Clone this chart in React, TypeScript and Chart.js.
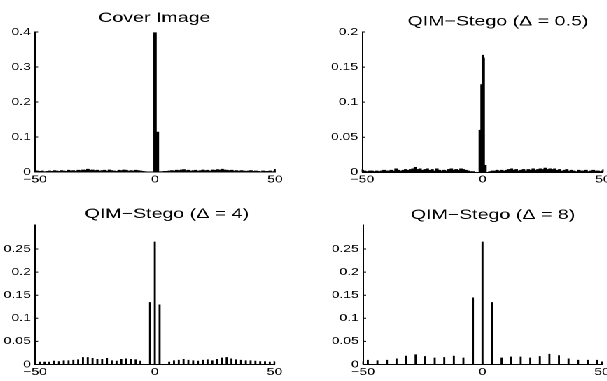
import React, { useEffect, useRef } from "react";
import { Chart, registerables } from "chart.js";

Chart.register(...registerables);

// ---------------- data ----------------
const X_TICKS = [-50, 0, 50];
const Y_TICKS_COVER = [0, 0.1, 0.2, 0.3, 0.4];
const Y_TICKS_STEGO05 = [0, 0.05, 0.1, 0.15, 0.2];
const Y_TICKS_STEGO = [0, 0.05, 0.1, 0.15, 0.2, 0.25];

const TITLES = ["Cover Image", "QIM\u2212Stego (\u0394 = 0.5)", "QIM\u2212Stego (\u0394 = 4)", "QIM\u2212Stego (\u0394 = 8)"];

// Cover image histogram, integer bins -50 .. 50
const COVER_VALUES = [
  0.004, 0.003, 0.002, 0.003, 0.001, 0.002, 0.003, 0.002, 0.004, 0.003,
  0.002, 0.004, 0.003, 0.002, 0.005, 0.003, 0.004, 0.002, 0.005, 0.004,
  0.006, 0.005, 0.008, 0.005, 0.006, 0.004, 0.005, 0.003, 0.004, 0.005,
  0.003, 0.006, 0.004, 0.003, 0.002, 0.005, 0.004, 0.006, 0.005, 0.003,
  0.004, 0.003, 0.005, 0.004, 0.003, 0.002, 0.001, 0.0, 0.0, 0.0,
  0.398,
  0.114, 0.001, 0.001, 0.002, 0.002, 0.003, 0.004, 0.003, 0.005, 0.004,
  0.006, 0.007, 0.004, 0.005, 0.003, 0.004, 0.005, 0.003, 0.004, 0.006,
  0.004, 0.005, 0.003, 0.006, 0.005, 0.007, 0.006, 0.008, 0.006, 0.005,
  0.004, 0.005, 0.003, 0.004, 0.002, 0.004, 0.003, 0.002, 0.003, 0.004,
  0.002, 0.003, 0.002, 0.001, 0.003, 0.002, 0.002, 0.003, 0.001, 0.003,
];

// QIM delta = 0.5: integer bins -50 .. -2, fine bins around 0, integer bins 2 .. 50
const STEGO05_LEFT = [
  0.003, 0.002, 0.001, 0.002, 0.002, 0.001, 0.002, 0.001, 0.002, 0.003,
  0.002, 0.002, 0.003, 0.002, 0.005, 0.003, 0.002, 0.003, 0.004, 0.003,
  0.004, 0.005, 0.007, 0.004, 0.005, 0.003, 0.004, 0.005, 0.003, 0.004,
  0.002, 0.005, 0.003, 0.002, 0.003, 0.002, 0.004, 0.005, 0.003, 0.004,
  0.003, 0.005, 0.004, 0.003, 0.002, 0.001, 0.001, 0.0, 0.0,
];
const STEGO05_CENTER_BINS = [-1, -0.5, 0, 0.5, 1];
const STEGO05_CENTER = [0.06, 0.125, 0.167, 0.163, 0.01];
const STEGO05_RIGHT = [
  0.0, 0.001, 0.002, 0.002, 0.003, 0.002, 0.003, 0.002, 0.003, 0.004,
  0.005, 0.003, 0.004, 0.002, 0.003, 0.004, 0.002, 0.004, 0.003, 0.005,
  0.003, 0.004, 0.005, 0.004, 0.006, 0.004, 0.005, 0.004, 0.005, 0.003,
  0.004, 0.002, 0.003, 0.004, 0.002, 0.003, 0.002, 0.001, 0.003, 0.002,
  0.002, 0.003, 0.001, 0.002, 0.003, 0.002, 0.002, 0.001, 0.002,
];

// QIM delta = 4: bins -50 .. 50 step 2
const STEGO4_VALUES = [
  0.007, 0.006, 0.006, 0.006, 0.008, 0.007, 0.009, 0.009, 0.010, 0.011,
  0.016, 0.016, 0.014, 0.012, 0.012, 0.014, 0.009, 0.008, 0.012, 0.013,
  0.012, 0.011, 0.008,
  0.0, 0.135, 0.266, 0.130, 0.0,
  0.006, 0.009, 0.010, 0.012, 0.010, 0.009, 0.008, 0.010, 0.011, 0.009,
  0.012, 0.015, 0.016, 0.013, 0.011, 0.010, 0.009, 0.009, 0.008, 0.007,
  0.007, 0.006, 0.008,
];

// QIM delta = 8: bins -48 .. 48 step 4
const STEGO8_VALUES = [
  0.010, 0.009, 0.010, 0.013, 0.019, 0.022, 0.018, 0.015, 0.016, 0.019,
  0.015, 0.145, 0.266, 0.135, 0.015, 0.017, 0.017, 0.015, 0.018, 0.023,
  0.020, 0.013, 0.010, 0.010, 0.010,
];

// ---------------- helpers ----------------
const bins = (start: number, step: number, n: number) =>
  Array.from({ length: n }, (_, i) => start + i * step);
const toPoints = (xs: number[], ys: number[]) => xs.map((x, i) => ({ x, y: ys[i] }));

const COVER_POINTS = toPoints(bins(-50, 1, COVER_VALUES.length), COVER_VALUES);
const STEGO05_POINTS = [
  ...toPoints(bins(-50, 1, STEGO05_LEFT.length), STEGO05_LEFT),
  ...toPoints(STEGO05_CENTER_BINS, STEGO05_CENTER),
  ...toPoints(bins(2, 1, STEGO05_RIGHT.length), STEGO05_RIGHT),
];
const STEGO4_POINTS = toPoints(bins(-50, 2, STEGO4_VALUES.length), STEGO4_VALUES);
const STEGO8_POINTS = toPoints(bins(-48, 4, STEGO8_VALUES.length), STEGO8_VALUES);

// ---------------- layout ----------------
const S = 1.4; // horizontal stretch of the figure
const FONT = '"Liberation Sans", Arial, Helvetica, sans-serif';
const Y_AXIS_W = 22;
const X_AXIS_H = 14;

type Panel = {
  title: string;
  points: { x: number; y: number }[];
  yMax: number;
  yTicks: number[];
  flex: boolean;
  barPct: number;
  left: number;
  top: number;
  width: number;
  height: number;
  pad: { left: number; right: number; top: number; bottom: number };
  titleX: number;
  titleY: number;
};

const PANELS: Panel[] = [
  {
    title: TITLES[0], points: COVER_POINTS, yMax: 0.4, yTicks: Y_TICKS_COVER, flex: false, barPct: 1,
    left: 0, top: 0, width: 214, height: 190,
    pad: { left: 3, right: 17.6, top: 32, bottom: 4 }, titleX: 110.2, titleY: 22,
  },
  {
    title: TITLES[1], points: STEGO05_POINTS, yMax: 0.2, yTicks: Y_TICKS_STEGO05, flex: true, barPct: 1,
    left: 214, top: 0, width: 220, height: 190,
    pad: { left: 22.8, right: 3.3, top: 32, bottom: 3.7 }, titleX: 141.7, titleY: 25.5,
  },
  {
    title: TITLES[2], points: STEGO4_POINTS, yMax: 0.302, yTicks: Y_TICKS_STEGO, flex: false, barPct: 0.42,
    left: 0, top: 190, width: 214, height: 191,
    pad: { left: 3, right: 17.9, top: 35, bottom: 2.5 }, titleX: 119.1, titleY: 28,
  },
  {
    title: TITLES[3], points: STEGO8_POINTS, yMax: 0.302, yTicks: Y_TICKS_STEGO, flex: false, barPct: 0.21,
    left: 214, top: 190, width: 220, height: 191,
    pad: { left: 23.3, right: 4, top: 35, bottom: 2.5 }, titleX: 138.1, titleY: 29,
  },
];

const fmtX = (v: number) => (v < 0 ? "\u2212" + Math.abs(v) : String(v));
const fmtY = (v: number) => String(parseFloat(Number(v).toFixed(3)));

const makeDecor = (p: Panel) => ({
  id: "decor",
  afterDraw(chart: any) {
    const { ctx, chartArea: a } = chart;
    const xs = chart.scales.x;
    const ys = chart.scales.y;
    ctx.save();
    ctx.strokeStyle = "#000";
    ctx.lineWidth = 1;
    ctx.beginPath();
    xs.ticks.forEach((t: any) => {
      const px = xs.getPixelForValue(t.value);
      ctx.moveTo(px, a.bottom);
      ctx.lineTo(px, a.bottom - 3);
    });
    ys.ticks.forEach((t: any) => {
      const py = ys.getPixelForValue(t.value);
      ctx.moveTo(a.left, py);
      ctx.lineTo(a.left + 2.2, py);
    });
    ctx.stroke();
    ctx.fillStyle = "#000";
    ctx.font = `14px ${FONT}`;
    ctx.textAlign = "center";
    ctx.textBaseline = "alphabetic";
    ctx.fillText(p.title, p.titleX, p.titleY);
    ctx.restore();
  },
});

function PanelChart({ p }: { p: Panel }) {
  const ref = useRef<HTMLCanvasElement>(null);
  useEffect(() => {
    const ds: any = {
      data: p.points,
      backgroundColor: "#000",
      borderWidth: 0,
      barPercentage: p.barPct,
      categoryPercentage: 1,
    };
    if (p.flex) ds.barThickness = "flex";
    const tickFont = { family: FONT, size: 10 };
    const chart = new Chart(ref.current as HTMLCanvasElement, {
      type: "bar",
      data: { datasets: [ds] },
      options: {
        animation: false,
        responsive: true,
        maintainAspectRatio: false,
        devicePixelRatio: 2,
        events: [],
        layout: { autoPadding: false, padding: p.pad } as any,
        plugins: { legend: { display: false }, tooltip: { enabled: false }, title: { display: false } },
        scales: {
          x: {
            type: "linear",
            min: -50,
            max: 50,
            offset: false,
            grid: { display: false, drawTicks: false },
            border: { display: true, color: "#000", width: 1 },
            ticks: {
              padding: 1.5,
              color: "#000",
              font: tickFont,
              maxRotation: 0,
              autoSkip: false,
              callback: (v: any) => fmtX(Number(v)),
            },
            afterBuildTicks: (s: any) => {
              s.ticks = X_TICKS.map((v) => ({ value: v }));
            },
            afterFit: (s: any) => {
              s.height = X_AXIS_H;
              s.paddingLeft = 0;
              s.paddingRight = 0;
            },
          },
          y: {
            type: "linear",
            min: 0,
            max: p.yMax,
            grid: { display: false, drawTicks: false },
            border: { display: true, color: "#000", width: 1 },
            ticks: {
              padding: 3,
              color: "#000",
              font: tickFont,
              autoSkip: false,
              callback: (v: any) => fmtY(Number(v)),
            },
            afterBuildTicks: (s: any) => {
              s.ticks = p.yTicks.map((v) => ({ value: v }));
            },
            afterFit: (s: any) => {
              s.width = Y_AXIS_W;
              s.paddingTop = 0;
              s.paddingBottom = 0;
            },
          },
        } as any,
      },
      plugins: [makeDecor(p)],
    });
    return () => chart.destroy();
  }, [p]);
  return (
    <div style={{ position: "absolute", left: p.left, top: p.top, width: p.width, height: p.height }}>
      <canvas ref={ref} />
    </div>
  );
}

export default function App() {
  return (
    <div
      style={{
        position: "fixed",
        left: 0,
        top: 0,
        width: 607,
        height: 381,
        overflow: "hidden",
        background: "#fff",
      }}
    >
      <div
        style={{
          position: "absolute",
          left: 0,
          top: 0,
          width: 434,
          height: 381,
          transform: `scaleX(${S})`,
          transformOrigin: "0 0",
        }}
      >
        {PANELS.map((p, i) => (
          <PanelChart key={i} p={p} />
        ))}
      </div>
    </div>
  );
}
